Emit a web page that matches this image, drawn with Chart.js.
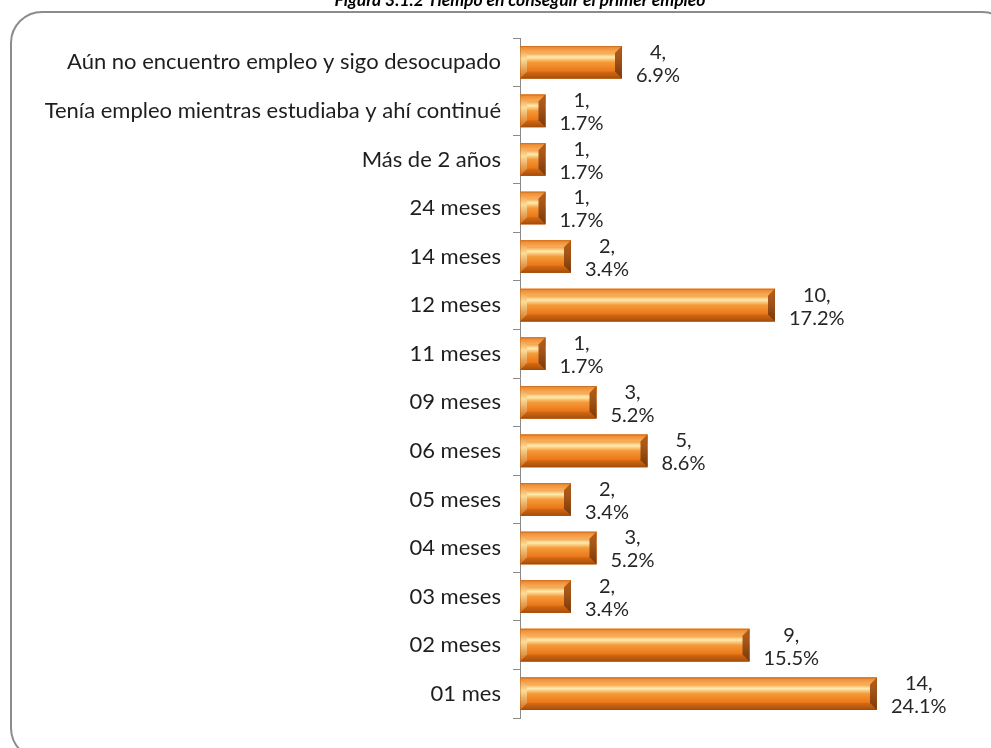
<!DOCTYPE html>
<html>
<head>
<meta charset="utf-8">
<script src="https://cdn.jsdelivr.net/npm/chart.js@4.4.0/dist/chart.umd.min.js"></script>
<style>
    html, body {
        margin: 0;
        padding: 0;
        width: 991px;
        height: 748px;
        overflow: hidden;
        background: #ffffff;
    }
    .frame {
        position: absolute;
        left: 10px;
        top: 11px;
        width: 1000px;
        height: 745px;
        border: 2px solid #8c8c8c;
        border-radius: 32px;
    }
    #chart {
        position: absolute;
        left: 0;
        top: 0;
    }
</style>
</head>
<body>
<div class="frame"></div>
<canvas id="chart" width="991" height="748"></canvas>
<script>
// categories, top to bottom as in the figure
var categories = [
    "Aún no encuentro empleo y sigo desocupado",
    "Tenía empleo mientras estudiaba y ahí continué",
    "Más de 2 años",
    "24 meses",
    "14 meses",
    "12 meses",
    "11 meses",
    "09 meses",
    "06 meses",
    "05 meses",
    "04 meses",
    "03 meses",
    "02 meses",
    "01 mes"
];
var counts = [4, 1, 1, 1, 2, 10, 1, 3, 5, 2, 3, 2, 9, 14];
var percents = ["6.9%", "1.7%", "1.7%", "1.7%", "3.4%", "17.2%", "1.7%", "5.2%", "8.6%", "3.4%", "5.2%", "3.4%", "15.5%", "24.1%"];
var titleText = "Figura 3.1.2 Tiempo en conseguir el primer empleo";

// title, cut off by the top edge like in the figure
var clippedTitle = {
    id: 'clippedTitle',
    afterDraw: function(chart) {
        var ctx = chart.ctx;
        ctx.save();
        ctx.font = 'italic bold 17.5px Lato, sans-serif';
        ctx.fillStyle = '#000';
        ctx.textAlign = 'center';
        ctx.textBaseline = 'alphabetic';
        ctx.fillText(titleText, 520, 6);
        ctx.restore();
    }
};

// bevelled orange bars, drawn over the bar rectangles chart.js lays out
var bevelBars = {
    id: 'bevelBars',
    afterDatasetsDraw: function(chart) {
        var ctx = chart.ctx;
        var meta = chart.getDatasetMeta(0);
        meta.data.forEach(function(bar) {
            var l = bar.base, r = bar.x;
            var t = bar.y - bar.height / 2, b = bar.y + bar.height / 2;
            var h = b - t;
            var e = Math.min(7, (r - l) / 3);
            ctx.save();
            // body
            var g = ctx.createLinearGradient(0, t, 0, b);
            g.addColorStop(0, '#e6701a');
            g.addColorStop(0.18, '#f28c28');
            g.addColorStop(0.34, '#ffecb0');
            g.addColorStop(0.5, '#f59a38');
            g.addColorStop(0.78, '#ea7618');
            g.addColorStop(1, '#c65c0e');
            ctx.fillStyle = g;
            ctx.fillRect(l, t, r - l, h);
            // top edge
            var gt = ctx.createLinearGradient(0, t, 0, t + e);
            gt.addColorStop(0, '#ee8428');
            gt.addColorStop(1, '#f8b060');
            ctx.fillStyle = gt;
            ctx.beginPath();
            ctx.moveTo(l, t); ctx.lineTo(r, t); ctx.lineTo(r - e, t + e); ctx.lineTo(l + e, t + e);
            ctx.closePath(); ctx.fill();
            // bottom edge
            var gb = ctx.createLinearGradient(0, b - e, 0, b);
            gb.addColorStop(0, '#d66a12');
            gb.addColorStop(1, '#a64e0b');
            ctx.fillStyle = gb;
            ctx.beginPath();
            ctx.moveTo(l, b); ctx.lineTo(r, b); ctx.lineTo(r - e, b - e); ctx.lineTo(l + e, b - e);
            ctx.closePath(); ctx.fill();
            // left edge
            var gl = ctx.createLinearGradient(0, t, 0, b);
            gl.addColorStop(0, '#ec862c');
            gl.addColorStop(0.4, '#fcdc98');
            gl.addColorStop(1, '#d66e18');
            ctx.fillStyle = gl;
            ctx.beginPath();
            ctx.moveTo(l, t); ctx.lineTo(l + e, t + e); ctx.lineTo(l + e, b - e); ctx.lineTo(l, b);
            ctx.closePath(); ctx.fill();
            // right edge
            var gr = ctx.createLinearGradient(0, t, 0, b);
            gr.addColorStop(0, '#b65e18');
            gr.addColorStop(0.4, '#a55418');
            gr.addColorStop(1, '#78380b');
            ctx.fillStyle = gr;
            ctx.beginPath();
            ctx.moveTo(r, t); ctx.lineTo(r - e, t + e); ctx.lineTo(r - e, b - e); ctx.lineTo(r, b);
            ctx.closePath(); ctx.fill();
            // thin outline
            ctx.strokeStyle = 'rgba(150,80,20,0.35)';
            ctx.lineWidth = 1;
            ctx.strokeRect(l + 0.5, t + 0.5, r - l - 1, h - 1);
            ctx.restore();
        });
    }
};

// "n,\npct" labels right of each bar
var valueLabels = {
    id: 'valueLabels',
    afterDatasetsDraw: function(chart) {
        var ctx = chart.ctx;
        var meta = chart.getDatasetMeta(0);
        ctx.save();
        ctx.font = '20px Lato, sans-serif';
        ctx.fillStyle = '#262626';
        ctx.textAlign = 'center';
        ctx.textBaseline = 'middle';
        meta.data.forEach(function(bar, i) {
            var l1 = counts[i] + ',';
            var l2 = percents[i];
            var w = Math.max(ctx.measureText(l1).width, ctx.measureText(l2).width);
            var cx = bar.x + 14 + w / 2;
            ctx.fillText(l1, cx, bar.y - 10);
            ctx.fillText(l2, cx, bar.y + 13);
        });
        ctx.restore();
    }
};

var chart = new Chart(document.getElementById('chart').getContext('2d'), {
    type: 'bar',
    data: {
        labels: categories,
        datasets: [{
            data: counts,
            backgroundColor: '#ee8020',
            borderWidth: 0,
            barPercentage: 0.67,
            categoryPercentage: 1
        }]
    },
    options: {
        indexAxis: 'y',
        responsive: false,
        animation: false,
        layout: {
            padding: { top: 38, bottom: 30, right: 63, left: 0 }
        },
        plugins: {
            legend: { display: false },
            tooltip: { enabled: false }
        },
        scales: {
            x: {
                display: false,
                min: 0,
                max: 16
            },
            y: {
                afterFit: function(scale) { scale.width = 520; },
                border: { display: true, color: '#8a8a8a', width: 1 },
                grid: {
                    drawOnChartArea: false,
                    drawTicks: true,
                    tickLength: 7,
                    color: '#8a8a8a'
                },
                ticks: {
                    padding: 12,
                    color: '#1e1e1e',
                    font: { family: 'Lato, sans-serif', size: 22 }
                }
            }
        }
    },
    plugins: [bevelBars, valueLabels, clippedTitle]
});
</script>
</body>
</html>
